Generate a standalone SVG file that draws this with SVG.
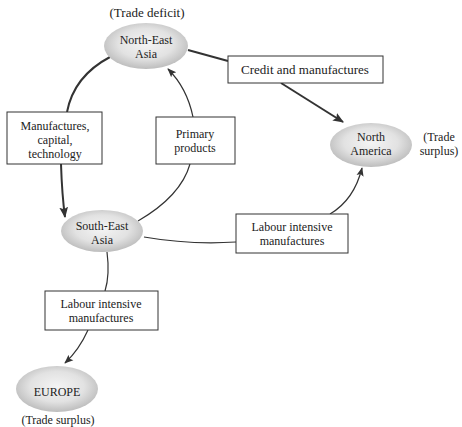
<svg xmlns="http://www.w3.org/2000/svg" width="462" height="427" viewBox="0 0 462 427">
<style>
text{font-family:"Liberation Serif","Times New Roman",serif;font-size:12px;fill:#222;text-anchor:middle}
.w{font-size:13px}
.box{fill:#fff;stroke:#333;stroke-width:1}
.blob{fill:url(#g);stroke:none}
.c{fill:none;stroke:#333;stroke-width:1.2}
.t{fill:none;stroke:#333;stroke-width:2}
</style>
<defs>
<radialGradient id="g" cx="50%" cy="45%" r="55%">
<stop offset="0" stop-color="#f4f4f4"/>
<stop offset="0.6" stop-color="#e2e2e2"/>
<stop offset="1" stop-color="#bdbdbd"/>
</radialGradient>
<marker id="a" viewBox="0 0 10 10" refX="9" refY="5" markerWidth="9" markerHeight="9" markerUnits="userSpaceOnUse" orient="auto">
<path d="M0,1 L10,5 L0,9 L2,5 Z" fill="#333"/>
</marker>
<marker id="A" viewBox="0 0 10 10" refX="9" refY="5" markerWidth="11" markerHeight="11" markerUnits="userSpaceOnUse" orient="auto">
<path d="M0,1 L10,5 L0,9 L2,5 Z" fill="#333"/>
</marker>
</defs>
<g id="connectors">
<path class="t" d="M188,50 L228,61"/>
<path class="t" d="M281,83 L343,122" marker-end="url(#A)"/>
<path class="t" d="M110,57 Q74,76 67,112"/>
<path class="t" d="M61,164 Q62,195 65,217" marker-end="url(#A)"/>
<path class="c" d="M138,221 Q181,196 190,164"/>
<path class="c" d="M193,117 Q187,88 168,69" marker-end="url(#a)"/>
<path class="c" d="M144,237 Q190,245 236,242"/>
<path class="c" d="M330,214 Q354,200 362,168" marker-end="url(#a)"/>
<path class="c" d="M107,252 Q110,275 105,291"/>
<path class="c" d="M88,330 Q79,350 65,363" marker-end="url(#a)"/>
</g>
<g id="ne-asia">
<text class="w" x="147" y="17">(Trade deficit)</text>
<ellipse class="blob" cx="146" cy="46" rx="42" ry="23"/>
<text x="146" y="44">North-East</text>
<text x="146" y="58">Asia</text>
</g>
<g id="credit">
<rect class="box" x="228" y="56" width="155" height="27"/>
<text class="w" x="305" y="74">Credit and manufactures</text>
</g>
<g id="manufactures">
<rect class="box" x="7" y="112" width="95" height="52"/>
<text x="55" y="130">Manufactures,</text>
<text x="55" y="144">capital,</text>
<text x="55" y="158">technology</text>
</g>
<g id="primary">
<rect class="box" x="156" y="117" width="79" height="47"/>
<text x="195" y="138">Primary</text>
<text x="195" y="152">products</text>
</g>
<g id="north-america">
<ellipse class="blob" cx="371" cy="145" rx="41" ry="22"/>
<text x="371" y="141">North</text>
<text x="371" y="155">America</text>
<text x="439" y="141">(Trade</text>
<text x="439" y="155">surplus)</text>
</g>
<g id="se-asia">
<ellipse class="blob" cx="102" cy="231" rx="41" ry="21"/>
<text x="102" y="230">South-East</text>
<text x="102" y="244">Asia</text>
</g>
<g id="labour-na">
<rect class="box" x="236" y="214" width="112" height="39"/>
<text x="292" y="231">Labour intensive</text>
<text x="292" y="245">manufactures</text>
</g>
<g id="labour-eu">
<rect class="box" x="45" y="291" width="113" height="39"/>
<text x="101" y="308">Labour intensive</text>
<text x="101" y="322">manufactures</text>
</g>
<g id="europe">
<ellipse class="blob" cx="57" cy="389" rx="41" ry="23"/>
<text x="57" y="396">EUROPE</text>
<text x="58" y="424">(Trade surplus)</text>
</g>
</svg>
